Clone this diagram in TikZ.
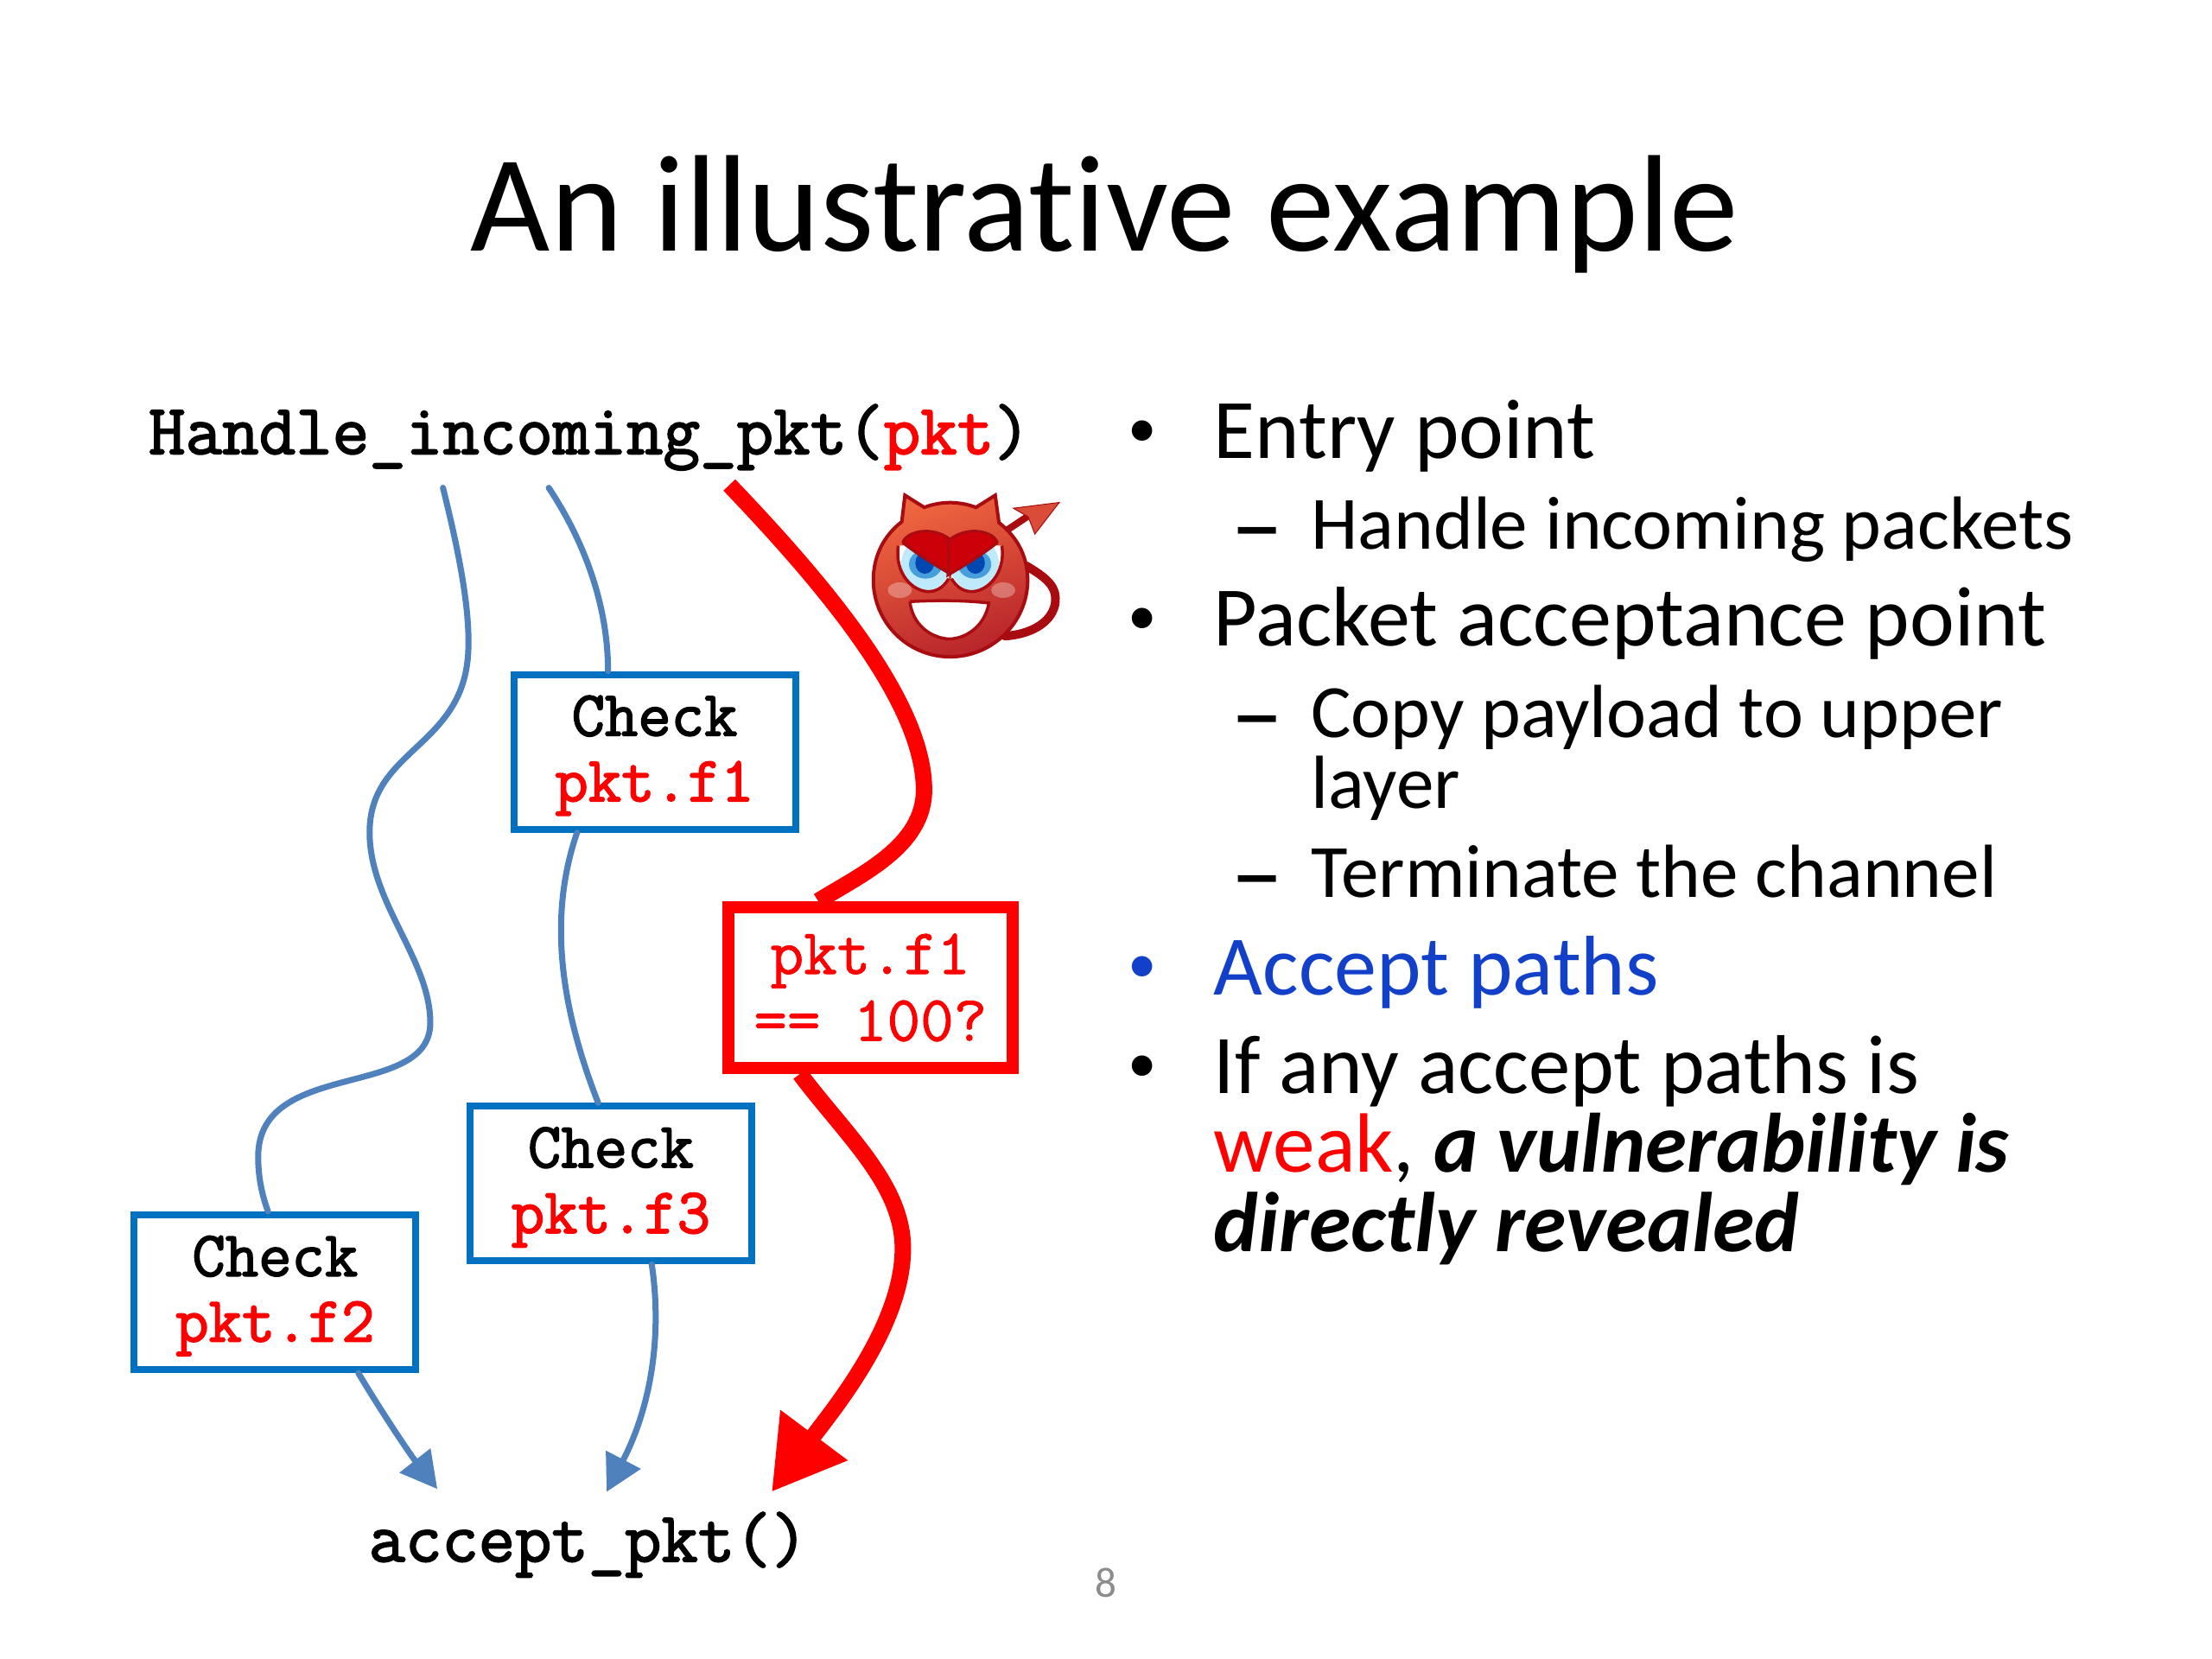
\documentclass[tikz,border=0pt]{standalone}
\usepackage{fontspec}
\setmainfont[Ligatures=NoCommon]{Carlito}
\newfontfamily\codefont[FakeBold=2.2]{Latin Modern Mono}
\newfontfamily\testfont[FakeBold=1.2]{Latin Modern Mono}
\usetikzlibrary{calc}
\usetikzlibrary{arrows.meta}

\definecolor{pathblue}{HTML}{4F81BD}
\definecolor{boxblue}{HTML}{0070C0}
\definecolor{acceptblue}{HTML}{1240C8}
\definecolor{devilline}{HTML}{A80C10}
\definecolor{devilbrow}{HTML}{CC0008}
\definecolor{devillight}{HTML}{F0663F}
\definecolor{devildark}{HTML}{B8252B}

\newcommand{\checktext}[1]{\raisebox{-1.4pt}[\height][\depth]{Check}\\\raisebox{-1pt}[\height][\depth]{\textcolor{red}{#1}}}

\tikzset{
  checkbox/.style={draw=boxblue, line width=0.08cm, fill=white, minimum width=3.26cm, minimum height=1.79cm,
    inner sep=0pt, align=center, font=\fontsize{21.2}{22}\selectfont\codefont},
  redbox/.style={checkbox, draw=red, line width=0.14cm, minimum width=3.29cm, minimum height=1.86cm, text=red,
    font=\fontsize{21.3}{22}\selectfont\testfont},
  codelabel/.style={inner sep=0pt, font=\fontsize{23.5}{24}\selectfont\codefont},
  bluepath/.style={draw=pathblue, line width=0.07cm, line cap=round},
  redpath/.style={draw=red, line width=0.19cm},
  mainitem/.style={anchor=base west, inner sep=0pt, align=left, font=\fontsize{27.9}{33}\selectfont},
  subitem/.style={anchor=base west, inner sep=0pt, align=left, font=\fontsize{24.8}{29}\selectfont},
}

\begin{document}
\begin{tikzpicture}[x=0.016327cm, y=-0.016327cm]
    \useasboundingbox (0, 0) rectangle (1568, 1176);
    \fill [white] (0, 0) rectangle (1568, 1176);

    \node [inner sep=0pt, anchor=base, font=\fontsize{45.3}{50}\selectfont] (title) at (783, 178) {An illustrative example};

    % code side
    \node [codelabel] (handle) at (418, 310) {Handle\_incoming\_pkt(\textcolor{red}{pkt})};
    \node [codelabel, font=\fontsize{23.4}{24}\selectfont\codefont] (accept) at (417, 1095) {accept\_pkt()};

    \node [checkbox] (checkf1) at (464, 533) {\checktext{pkt.f1}};
    \node [checkbox] (checkf3) at (433, 839) {\checktext{pkt.f3}};
    \node [checkbox] (checkf2) at (195, 916) {\checktext{pkt.f2}};
    \node [redbox] (testf1) at (617, 700) {pkt.f1\\== 100?};

    \draw [bluepath] ([shift={(-104, 12)}]handle.south)
      .. controls (325, 390) and (333, 430) .. (332, 460)
      .. controls (330, 530) and (262, 530) .. (262, 590)
      .. controls (262, 640) and (305, 680) .. (305, 725)
      .. controls (305, 780) and (183, 750) .. (183, 820)
      .. controls (183, 835) and (186, 848) .. ([shift={(-5, 0)}]checkf2.north);
    \draw [bluepath] ([shift={(-29, 12)}]handle.south)
      .. controls (415, 385) and (431, 430) .. ([shift={(-33, 0)}]checkf1.north);
    \draw [bluepath] ([shift={(-55, 0)}]checkf1.south)
      .. controls (392, 640) and (392, 700) .. ([shift={(-9, 0)}]checkf3.north);
    \draw [bluepath, -{Triangle[length=0.42cm, width=0.44cm]}] ([shift={(29, 0)}]checkf3.south)
      .. controls (470, 950) and (460, 1000) .. ([shift={(13, -14)}]accept.north);
    \draw [bluepath, -{Triangle[length=0.42cm, width=0.44cm]}] ([shift={(59, 0)}]checkf2.south)
      .. controls (270, 1000) and (290, 1030) .. ([shift={(-107, -16)}]accept.north);

    \draw [redpath] ([shift={(99, 10)}]handle.south)
      .. controls (590, 420) and (655, 500) .. (655, 560)
      .. controls (655, 600) and (610, 620) .. ([shift={(-37, 0)}]testf1.north);
    \draw [redpath, -{Triangle[length=0.82cm, width=0.92cm]}] ([shift={(-50, 0)}]testf1.south)
      .. controls (600, 805) and (640, 840) .. (640, 885)
      .. controls (640, 940) and (590, 1000) .. ([shift={(130, -14)}]accept.north);

    % devil
    \begin{scope}[shift={(581.8, 324.6)}, x=0.00333cm, y=-0.00333cm]
      \draw [devilline, line width=0.10cm, line cap=round] (715, 375)
        .. controls (790, 420) and (825, 450) .. (815, 510)
        .. controls (800, 580) and (720, 615) .. (640, 620);
      \draw [devilline, line width=0.08cm] (650, 250) -- (725, 200);
      \fill [draw=devilline, line width=0.01cm, fill=devillight!60!devildark] (670, 175) -- (830, 155) -- (745, 265) -- (722, 205) -- cycle;
      \shade [draw=devilline, line width=0.04cm, left color=devillight, right color=devildark, shading angle=20]
        (293, 130) -- (360, 172)
        .. controls (420, 150) and (480, 150) .. (540, 172)
        -- (607, 130) -- (620, 225)
        .. controls (690, 280) and (720, 350) .. (720, 425)
        .. controls (720, 570) and (600, 692) .. (450, 692)
        .. controls (300, 692) and (183, 570) .. (183, 425)
        .. controls (183, 340) and (220, 270) .. (282, 222) -- cycle;
      \fill [white, opacity=0.3] (275, 460) ellipse [x radius=42, y radius=27];
      \fill [white, opacity=0.3] (635, 460) ellipse [x radius=42, y radius=27];
      \foreach \mirror in {1, -1} {
        \begin{scope}[shift={(450, 0)}, xscale=\mirror]
          \begin{scope}
            \path [clip] (-180, 305) .. controls (-195, 400) and (-130, 468) .. (-70, 465)
              .. controls (-40, 462) and (-20, 445) .. (-5, 420) -- (-5, 300) -- cycle;
            \fill [white] (-200, 290) rectangle (0, 480);
            \fill [cyan!25!white] (-85, 370) ellipse [x radius=85, y radius=92];
            \fill [cyan!70!blue!75!white] (-85, 370) ellipse [x radius=58, y radius=50];
            \fill [blue!60!cyan!70!black] (-88, 365) ellipse [x radius=33, y radius=38];
          \end{scope}
          \draw [devilline, line width=0.035cm] (-180, 305) .. controls (-195, 400) and (-130, 468) .. (-70, 465)
            .. controls (-40, 462) and (-20, 445) .. (-5, 420);
          \draw [fill=devilbrow, draw=devilline, line width=0.03cm] (-165, 295)
            .. controls (-150, 250) and (-50, 235) .. (8, 290)
            .. controls (2, 320) and (4, 370) .. (8, 408)
            .. controls (-60, 370) and (-120, 330) .. (-165, 295);
        \end{scope}
      }
      \draw [fill=white, draw=devilline, line width=0.035cm] (310, 500)
        .. controls (400, 495) and (500, 495) .. (585, 505)
        .. controls (570, 590) and (500, 630) .. (445, 630)
        .. controls (380, 625) and (320, 580) .. (310, 500);
    \end{scope}

    % bullet list
    \foreach \name/\ypos/\col in {entry/317/black, packet/450/black, paths/697/acceptblue, weak/767/black}
      \node [mainitem, font=\fontsize{19}{20}\selectfont, text=\col] (dot\name) at (799, \ypos) {•};
    \foreach \name/\ypos in {incoming/397, copy/531, channel/644}
      \node [subitem, font=\fontsize{35}{36}\selectfont] (dash\name) at (872, \ypos) {–};

    \node [mainitem] (entry) at (860, 325) {Entry point};
    \node [subitem] (incoming) at (929, 389) {Handle incoming packets};
    \node [mainitem] (packet) at (860, 458) {Packet acceptance point};
    \node [subitem] (copy) at (929, 523) {Copy payload to upper};
    \node [subitem] (layer) at (929, 573) {layer};
    \node [subitem] (channel) at (929, 636) {Terminate the channel};
    \node [mainitem, text=acceptblue] (paths) at (860, 705) {Accept paths};
    \node [mainitem, font=\fontsize{27.5}{33}\selectfont] (anypath) at (860, 775) {If any accept paths is};
    \node [mainitem, font=\fontsize{27.7}{33}\selectfont] (weak) at (860, 831) {\textcolor{red}{weak}, \textbf{\textit{a vulnerability is}}};
    \node [mainitem] (revealed) at (860, 887) {\textbf{\textit{directly revealed}}};

    \node [inner sep=0pt, text=black!45, font=\fontsize{14}{16}\selectfont] (pagenum) at (784, 1122) {8};
    \end{tikzpicture}
\end{document}
